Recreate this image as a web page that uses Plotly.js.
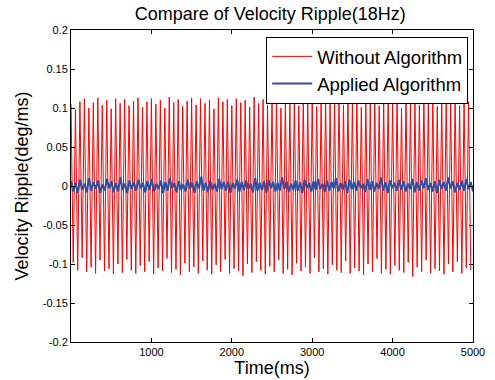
<!DOCTYPE html>
<html>
<head>
<meta charset="utf-8">
<script src="https://cdn.plot.ly/plotly-3.0.1.min.js"></script>
<style>html,body{margin:0;padding:0;background:#fff;}#chart{width:495px;height:380px;}</style>
</head>
<body>
<div id="chart"></div>
<script>
// Red ripple (Without Algorithm): per-half-cycle extreme values (18 Hz, 0-5000 ms)
const redPeaks = [
0.105,0.098,0.108,0.112,0.100,0.107,0.113,0.104,0.110,0.099,
0.112,0.106,0.111,0.103,0.109,0.113,0.101,0.108,0.112,0.105,
0.110,0.100,0.114,0.107,0.111,0.102,0.109,0.113,0.104,0.112,
0.106,0.110,0.099,0.113,0.108,0.111,0.103,0.112,0.107,0.110,
0.101,0.114,0.106,0.111,0.104,0.109,0.113,0.100,0.112,0.107,
0.110,0.103,0.113,0.108,0.111,0.102,0.109,0.112,0.105,0.110,
0.116,0.104,0.111,0.107,0.113,0.101,0.110,0.108,0.112,0.103,
0.109,0.113,0.106,0.111,0.100,0.112,0.107,0.110,0.104,0.113,
0.108,0.111,0.102,0.109,0.112,0.106,0.110,0.103,0.111,0.108];
const redTroughs = [
-0.098,-0.108,-0.092,-0.110,-0.104,-0.112,-0.095,-0.109,-0.106,-0.113,
-0.100,-0.111,-0.094,-0.108,-0.112,-0.102,-0.110,-0.097,-0.113,-0.105,
-0.109,-0.093,-0.111,-0.107,-0.114,-0.099,-0.110,-0.104,-0.112,-0.096,
-0.108,-0.113,-0.101,-0.110,-0.094,-0.112,-0.106,-0.109,-0.115,-0.100,
-0.111,-0.097,-0.108,-0.113,-0.103,-0.110,-0.095,-0.112,-0.107,-0.114,
-0.099,-0.109,-0.104,-0.112,-0.092,-0.110,-0.106,-0.113,-0.101,-0.108,
-0.111,-0.096,-0.112,-0.105,-0.109,-0.114,-0.100,-0.110,-0.093,-0.112,
-0.107,-0.113,-0.102,-0.108,-0.111,-0.098,-0.116,-0.104,-0.110,-0.095,
-0.112,-0.106,-0.109,-0.113,-0.100,-0.110,-0.097,-0.112,-0.105,-0.108];
// Blue ripple (Applied Algorithm): residual values, same half-cycle spacing
const blueValues = [
0.006,-0.007,0.004,-0.009,0.008,-0.005,0.003,-0.008,0.010,-0.006,
0.005,-0.004,0.007,-0.009,0.002,-0.006,0.009,-0.003,0.006,-0.008,
0.004,-0.007,0.011,-0.005,0.003,-0.009,0.007,-0.004,0.005,-0.006,
0.008,-0.003,0.004,-0.008,0.006,-0.005,0.009,-0.007,0.003,-0.004,
0.007,-0.009,0.005,-0.006,0.010,-0.003,0.004,-0.008,0.006,-0.005,
0.002,-0.007,0.008,-0.004,0.005,-0.009,0.006,-0.003,0.012,-0.006,
0.004,-0.008,0.007,-0.005,0.003,-0.007,0.009,-0.004,0.005,-0.006,
0.006,-0.009,0.004,-0.003,0.008,-0.007,0.005,-0.005,0.007,-0.004,
0.003,-0.008,0.010,-0.006,0.004,-0.005,0.006,-0.009,0.008,-0.003,
0.005,-0.007,0.004,-0.006,0.011,-0.004,0.006,-0.008,0.003,-0.005,
0.007,-0.006,0.005,-0.009,0.008,-0.003,0.004,-0.007,0.006,-0.005,
0.009,-0.004,0.003,-0.008,0.007,-0.006,0.005,-0.003,0.010,-0.007,
0.004,-0.005,0.006,-0.009,0.008,-0.004,0.005,-0.006,0.007,-0.003,
0.003,-0.008,0.009,-0.005,0.006,-0.007,0.004,-0.004,0.011,-0.006,
0.005,-0.009,0.007,-0.003,0.004,-0.006,0.008,-0.005,0.006,-0.007,
0.003,-0.004,0.009,-0.008,0.005,-0.006,0.007,-0.003,0.010,-0.005,
0.004,-0.007,0.006,-0.009,0.008,-0.004,0.005,-0.006,0.011,-0.003,
0.006,-0.008,0.004,-0.005,0.007,-0.006,0.009,-0.004,0.005,-0.007];
const seriesNames = ["Without Algorithm", "Applied Algorithm"];
const yTickVals = [-0.2,-0.15,-0.1,-0.05,0,0.05,0.1,0.15,0.2];
const yTickText = ["-0.2","-0.15","-0.1","-0.05","0","0.05","0.1","0.15","0.2"];
const xTickVals = [1000,2000,3000,4000,5000];
const xTickText = ["1000","2000","3000","4000","5000"];

const redY = [];
for (let i = 0; i < redPeaks.length; i++) { redY.push(redPeaks[i]); redY.push(redTroughs[i]); }

const halfPeriodMs = 5000 / (redY.length);
const traces = [
  {type:'scatter', mode:'lines', name: seriesNames[0], y: redY, x0: 0, dx: halfPeriodMs,
   line:{color:'#ff0000', width:1}},
  {type:'scatter', mode:'lines', name: seriesNames[1], y: blueValues, x0: 0, dx: 5000/(blueValues.length-1),
   line:{color:'#2f4fa2', width:2}}
];
const font = 'Liberation Sans, Arial, Helvetica, sans-serif';
const layout = {
  width:495, height:380,
  margin:{l:71, r:22, t:30, b:38},
  paper_bgcolor:'#fff', plot_bgcolor:'#fff',
  font:{family:font, color:'#000', size:11},
  title:{text:'Compare of Velocity Ripple(18Hz)', font:{size:18, family:font, color:'#000'}, x:0.546, xanchor:'center', y:0.963, yanchor:'middle'},
  showlegend:true,
  legend:{x:0.988, xanchor:'right', y:0.978, yanchor:'top', bgcolor:'#fff', bordercolor:'#000', borderwidth:1,
          font:{size:18.5, family:font}, tracegroupgap:0, itemwidth:40},
  xaxis:{range:[0,5000], tickvals:xTickVals, ticktext:xTickText, ticks:'inside', ticklen:4, tickcolor:'#000',
         showline:true, linecolor:'#000', linewidth:1, mirror:'ticks', showgrid:false, zeroline:false,
         title:{text:'Time(ms)', font:{size:18, family:font}, standoff:0}, automargin:false},
  yaxis:{range:[-0.2,0.2], tickvals:yTickVals, ticktext:yTickText, ticks:'inside', ticklen:4, tickcolor:'#000',
         showline:true, linecolor:'#000', linewidth:1, mirror:'ticks', showgrid:false, zeroline:false,
         title:{text:'Velocity Ripple(deg/ms)', font:{size:18, family:font}, standoff:9}, automargin:false}
};
Plotly.newPlot('chart', traces, layout, {displayModeBar:false, staticPlot:true});
</script>
</body>
</html>
